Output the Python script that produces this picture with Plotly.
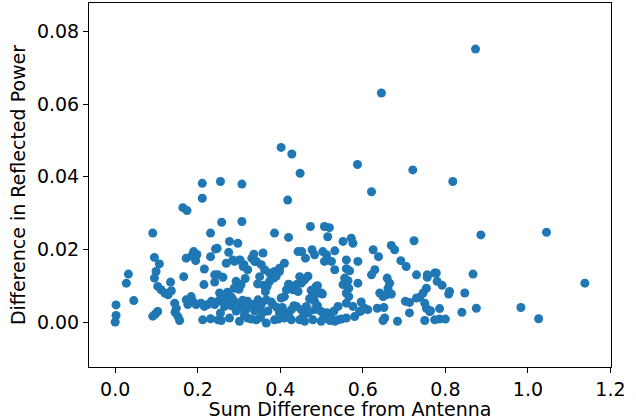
import plotly.graph_objects as go

# Sum difference from antenna (x) vs difference in reflected power (y)
sum_diff = [
    # low x region
    0.091, 0.231, 0.172, 0.185, 0.190, 0.195, 0.198, 0.243, 0.231, 0.095,
    0.107, 0.032, 0.027, 0.099, 0.095, 0.166, 0.216, 0.241, 0.241, 0.215,
    0.134, 0.103, 0.111, 0.120, 0.128, 0.136, 0.045, 0.002, 0.002, 0.000,
    0.103, 0.097, 0.091, 0.144, 0.148, 0.145, 0.152, 0.156, 0.172, 0.184,
    0.188, 0.196, 0.176, 0.208, 0.216, 0.224, 0.233, 0.241, 0.249, 0.212,
    0.231, 0.249, 0.272, 0.288,
    # middle-left region
    0.386, 0.420, 0.473, 0.507, 0.277, 0.297, 0.247, 0.275, 0.269, 0.285,
    0.301, 0.312, 0.321, 0.331, 0.336, 0.342, 0.354, 0.362, 0.374, 0.386,
    0.398, 0.410, 0.384, 0.374, 0.368, 0.360, 0.443, 0.452, 0.461, 0.477,
    0.483, 0.503, 0.507, 0.249, 0.261, 0.293, 0.447, 0.459, 0.451, 0.439,
    0.427, 0.415, 0.420, 0.410, 0.402, 0.479, 0.483, 0.499, 0.471, 0.253,
    0.273, 0.277, 0.265, 0.289, 0.305, 0.321, 0.334, 0.346, 0.354, 0.366,
    0.382, 0.297, 0.317, 0.338, 0.358, 0.439, 0.451, 0.463, 0.483, 0.499,
    0.512, 0.398, 0.415, 0.427, 0.257, 0.277, 0.301, 0.321, 0.342, 0.366,
    0.386, 0.410, 0.427, 0.447, 0.459, 0.479, 0.499, 0.358, 0.338, 0.310,
    0.398, 0.390, 0.364, 0.421, 0.431, 0.443, 0.467, 0.487, 0.491, 0.483,
    0.490, 0.475, 0.478, 0.502, 0.303, 0.289, 0.305,
    # dense bottom band
    0.262, 0.281, 0.293, 0.309, 0.313, 0.326, 0.330, 0.350, 0.352, 0.370,
    0.378, 0.392, 0.395, 0.405, 0.420, 0.433, 0.455, 0.468, 0.490, 0.505,
    0.530, 0.548, 0.580, 0.255, 0.282, 0.300, 0.315, 0.345, 0.350,
    # middle-right region
    0.519, 0.515, 0.552, 0.572, 0.576, 0.724, 0.669, 0.677, 0.625, 0.638,
    0.532, 0.512, 0.515, 0.524, 0.560, 0.588, 0.692, 0.705, 0.532, 0.560,
    0.568, 0.629, 0.621, 0.730, 0.756, 0.774, 0.556, 0.552, 0.564, 0.566,
    0.560, 0.566, 0.588, 0.659, 0.665, 0.661, 0.641, 0.649, 0.657, 0.669,
    0.754, 0.746, 0.738, 0.730, 0.780, 0.703, 0.713, 0.750, 0.754, 0.713,
    0.764, 0.560, 0.576, 0.596, 0.596, 0.612, 0.635, 0.651, 0.653, 0.649,
    0.684, 0.750, 0.774, 0.540, 0.515, 0.524, 0.540, 0.560, 0.592, 0.604,
    0.756, 0.762, 0.520, 0.532,
    # right region
    0.886, 1.045, 0.778, 0.867, 0.792, 0.810, 0.808, 0.847, 0.786, 0.840,
    0.875, 0.983, 0.786, 0.800, 1.026, 1.138,
    # upper outliers
    0.402, 0.428, 0.448, 0.211, 0.255, 0.307, 0.211, 0.418, 0.164, 0.174,
    0.258, 0.307, 0.873, 0.645, 0.587, 0.721, 0.621, 0.818,
]

refl_diff = [
    # low x region
    0.0245, 0.0245, 0.0176, 0.0182, 0.0194, 0.0169, 0.0186, 0.0201, 0.0180, 0.0178,
    0.0160, 0.0132, 0.0107, 0.0139, 0.0121, 0.0125, 0.0146, 0.0130, 0.0110, 0.0103,
    0.0110, 0.0098, 0.0089, 0.0080, 0.0075, 0.0086, 0.0059, 0.0047, 0.0018, 0.0000,
    0.0029, 0.0022, 0.0016, 0.0052, 0.0038, 0.0027, 0.0015, 0.0004, 0.0061, 0.0070,
    0.0057, 0.0048, 0.0048, 0.0052, 0.0043, 0.0048, 0.0057, 0.0048, 0.0057, 0.0006,
    0.0009, 0.0006, 0.0082, 0.0093,
    # middle-left region
    0.0245, 0.0233, 0.0263, 0.0263, 0.0222, 0.0217, 0.0203, 0.0192, 0.0162, 0.0171,
    0.0171, 0.0158, 0.0144, 0.0176, 0.0187, 0.0167, 0.0158, 0.0144, 0.0135, 0.0139,
    0.0148, 0.0162, 0.0121, 0.0112, 0.0098, 0.0101, 0.0194, 0.0194, 0.0176, 0.0199,
    0.0185, 0.0194, 0.0167, 0.0130, 0.0123, 0.0112, 0.0125, 0.0116, 0.0107, 0.0103,
    0.0098, 0.0089, 0.0104, 0.0070, 0.0066, 0.0089, 0.0075, 0.0080, 0.0064, 0.0080,
    0.0080, 0.0059, 0.0043, 0.0057, 0.0048, 0.0057, 0.0048, 0.0061, 0.0048, 0.0061,
    0.0048, 0.0034, 0.0034, 0.0031, 0.0027, 0.0043, 0.0034, 0.0043, 0.0034, 0.0029,
    0.0025, 0.0025, 0.0025, 0.0034, 0.0004, 0.0011, 0.0002, 0.0011, 0.0006, -0.0003,
    0.0006, 0.0011, 0.0006, 0.0006, 0.0002, 0.0006, 0.0002, 0.0190, 0.0167, 0.0153,
    0.0139, 0.0126, 0.0084, 0.0103, 0.0089, 0.0084, 0.0126, 0.0098, 0.0080, 0.0057,
    0.0100, 0.0087, 0.0072, 0.0077, 0.0170, 0.0167, 0.0103,
    # dense bottom band
    0.0062, 0.0045, 0.0030, 0.0060, 0.0018, 0.0045, 0.0008, 0.0035, 0.0012, 0.0030,
    0.0055, 0.0040, 0.0008, 0.0040, 0.0018, 0.0045, 0.0015, 0.0025, 0.0045, 0.0010,
    0.0030, 0.0008, 0.0015, 0.0025, 0.0068, 0.0090, 0.0120, 0.0105, 0.0125,
    # middle-right region
    0.0260, 0.0235, 0.0222, 0.0231, 0.0217, 0.0224, 0.0211, 0.0199, 0.0199, 0.0180,
    0.0196, 0.0185, 0.0171, 0.0167, 0.0171, 0.0167, 0.0169, 0.0153, 0.0144, 0.0147,
    0.0141, 0.0144, 0.0130, 0.0130, 0.0130, 0.0135, 0.0121, 0.0103, 0.0114, 0.0093,
    0.0080, 0.0070, 0.0107, 0.0121, 0.0107, 0.0093, 0.0080, 0.0070, 0.0075, 0.0077,
    0.0093, 0.0080, 0.0068, 0.0066, 0.0112, 0.0057, 0.0054, 0.0052, 0.0038, 0.0025,
    0.0031, 0.0052, 0.0043, 0.0055, 0.0031, 0.0034, 0.0038, 0.0040, 0.0011, 0.0004,
    0.0002, 0.0004, 0.0006, 0.0043, 0.0025, 0.0011, 0.0006, 0.0011, 0.0029, 0.0038,
    0.0123, 0.0029, 0.0004, 0.0002,
    # right region
    0.0240, 0.0247, 0.0135, 0.0132, 0.0101, 0.0084, 0.0077, 0.0080, 0.0037, 0.0027,
    0.0038, 0.0040, 0.0008, 0.0008, 0.0009, 0.0107,
    # upper outliers
    0.0481, 0.0463, 0.0410, 0.0382, 0.0387, 0.0380, 0.0341, 0.0336, 0.0315, 0.0307,
    0.0275, 0.0277, 0.0752, 0.0631, 0.0434, 0.0419, 0.0359, 0.0387,
]

x_ticks = [0.0, 0.2, 0.4, 0.6, 0.8, 1.0, 1.2]
y_ticks = [0.00, 0.02, 0.04, 0.06, 0.08]

fig = go.Figure()
fig.add_trace(go.Scatter(
    x=sum_diff, y=refl_diff, mode='markers',
    marker=dict(size=9, color='#1f77b4', line=dict(width=0)),
    showlegend=False))

axis_style = dict(
    showline=True, mirror=True, linecolor='black', linewidth=1,
    ticks='outside', ticklen=5, tickcolor='black', tickwidth=1,
    showgrid=False, zeroline=False, automargin=False,
    tickfont=dict(family='DejaVu Sans', size=19, color='black'),
)

fig.update_xaxes(range=[-0.0635, 1.2013], tickvals=x_ticks,
                 ticktext=['%.1f' % v for v in x_ticks],
                 title=dict(text='Sum Difference from Antenna',
                            font=dict(family='DejaVu Sans', size=19, color='black'),
                            standoff=2),
                 **axis_style)
fig.update_yaxes(range=[-0.0124, 0.0879], tickvals=y_ticks,
                 ticktext=['%.2f' % v for v in y_ticks],
                 title=dict(text='Difference in Reflected Power',
                            font=dict(family='DejaVu Sans', size=19, color='black'),
                            standoff=6),
                 **axis_style)

fig.update_layout(
    width=636, height=420,
    margin=dict(l=89, r=25, t=3, b=53),
    plot_bgcolor='white', paper_bgcolor='white',
)

# drop the default page margin so the figure sits at the window's corner
fig.write_html("out.html", config={'displayModeBar': False},
               post_script="document.body.style.margin='0';")
